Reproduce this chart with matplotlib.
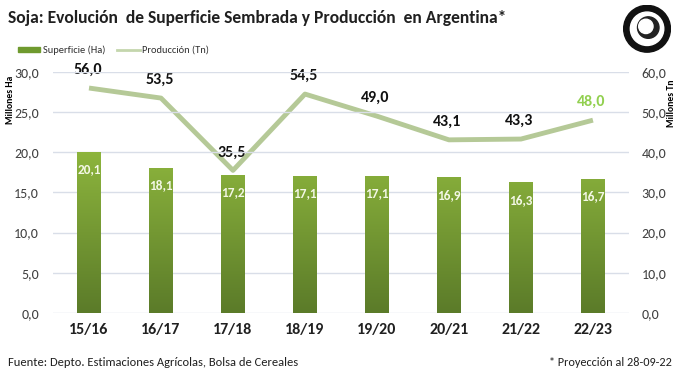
import numpy as np
import matplotlib.pyplot as plt
from matplotlib.colors import LinearSegmentedColormap
from matplotlib.patches import Circle

plt.rcParams['font.family'] = ['Carlito', 'DejaVu Sans']

# %% data
campanias = ['15/16', '16/17', '17/18', '18/19', '19/20', '20/21', '21/22', '22/23']
superficie = [20.1, 18.1, 17.2, 17.1, 17.1, 16.9, 16.3, 16.7]   # millones Ha
produccion = [56.0, 53.5, 35.5, 54.5, 49.0, 43.1, 43.3, 48.0]   # millones Tn

def fmt(v):
    return f'{v:.1f}'.replace('.', ',')

# %% figure
fig = plt.figure(figsize=(6.84, 3.76), dpi=100)
ax = fig.add_axes([0.0775, 0.1676, 0.842, 0.641])
ax2 = ax.twinx()

x = np.arange(len(campanias))
bars = ax.bar(x, superficie, width=0.32, color='#76a032', zorder=2)

# vertical gradient inside the bars
cmap = LinearSegmentedColormap.from_list('verde', ['#5b7b29', '#8db53d'])
grad = np.linspace(0, 1, 256).reshape(-1, 1)
for b in bars:
    x0, w = b.get_x(), b.get_width()
    im = ax.imshow(grad, cmap=cmap, origin='lower', aspect='auto',
                   extent=[x0, x0 + w, 0, max(superficie)], zorder=3)
    im.set_clip_path(b)

for xi, v in zip(x, superficie):
    ax.text(xi, v - 2.2, fmt(v), ha='center', va='center', color='#f4f8e6',
            fontsize=9.5, fontweight='bold', zorder=5)

ax.set_xlim(-0.5, len(campanias) - 0.5)
ax.set_ylim(0, 30)
ax.set_yticks(np.arange(0, 31, 5))
ax.set_yticklabels([fmt(v) for v in np.arange(0, 31, 5)], fontsize=10, color='#404040')
ax.set_xticks(x)
ax.set_xticklabels(campanias, fontsize=11.5, fontweight='bold', color='#202020')
ax.grid(axis='y', color='#d9dee8', linewidth=1, zorder=0)
ax.set_axisbelow(True)
ax.tick_params(axis='y', length=0, pad=10)
ax.tick_params(axis='x', length=0, pad=7)
for s in ax.spines.values():
    s.set_visible(False)

# line on secondary axis
ax2.plot(x, produccion, color='#b5c997', linewidth=3.5, zorder=4, solid_capstyle='butt')
ax2.set_ylim(0, 60)
ax2.set_yticks(np.arange(0, 61, 10))
ax2.set_yticklabels([fmt(v) for v in np.arange(0, 61, 10)], fontsize=10, color='#404040')
ax2.tick_params(length=0, pad=9)
for s in ax2.spines.values():
    s.set_visible(False)
for i, v in enumerate(produccion):
    col = '#92d050' if i == len(produccion) - 1 else '#111111'
    ax2.text(x[i] - 0.02, v + 4.5, fmt(v), ha='center', va='center', color=col,
             fontsize=11.5, fontweight='bold', zorder=5)
ax.set_zorder(ax2.get_zorder() + 1)
ax.patch.set_visible(False)

# axis titles
fig.text(0.009, 0.735, 'Millones Ha', rotation=90, ha='left', va='center',
         fontsize=7, fontweight='bold')
fig.text(0.975, 0.725, 'Millones Tn', rotation=90, ha='left', va='center',
         fontsize=7, fontweight='bold')

# title and legend
fig.text(0.012, 0.952, 'Soja: Evolución  de Superficie Sembrada y Producción  en Argentina*',
         fontsize=12.6, fontweight='bold', color='#202020', va='center')
fig.patches.append(plt.Rectangle((0.027, 0.861), 0.032, 0.013, color='#6f9a2e',
                                 transform=fig.transFigure, figure=fig))
fig.text(0.063, 0.867, 'Superficie (Ha)', fontsize=7.5, va='center', color='#303030')
fig.lines.append(plt.Line2D([0.171, 0.205], [0.867, 0.867], color='#c4d6ad', lw=2,
                            transform=fig.transFigure, figure=fig))
fig.text(0.207, 0.867, 'Producción (Tn)', fontsize=7.5, va='center', color='#303030')

# logo (simple seal)
lax = fig.add_axes([0.9, 0.86, 0.092, 0.127])
lax.set_xlim(-1, 1)
lax.set_ylim(-1, 1)
lax.set_aspect('equal')
lax.axis('off')
lax.add_patch(Circle((0, 0), 0.98, color='#111111'))
lax.add_patch(Circle((0, 0), 0.7, color='white'))
lax.add_patch(Circle((0.05, 0.05), 0.45, color='#222222'))
lax.add_patch(Circle((-0.05, 0.1), 0.3, color='white'))

# footer
fig.text(0.012, 0.035, 'Fuente: Depto. Estimaciones Agrícolas, Bolsa de Cereales',
         fontsize=9, color='#202020', va='center')
fig.text(0.983, 0.035, '* Proyección al 28-09-22', fontsize=8.8, color='#202020',
         va='center', ha='right')

fig.savefig('out.png', dpi=100)
